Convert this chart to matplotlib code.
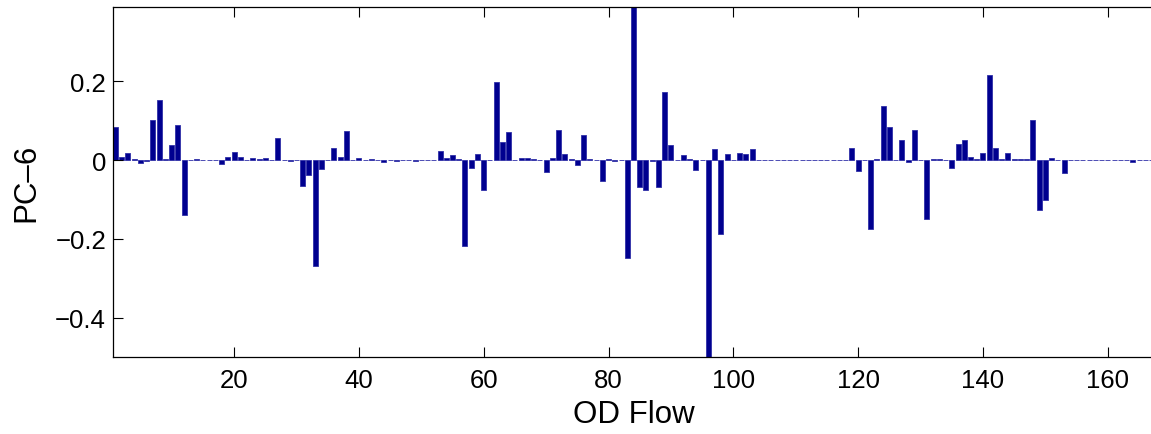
import numpy as np
import matplotlib.pyplot as plt

plt.rcParams['font.family'] = ['Liberation Sans', 'DejaVu Sans']

# PC-6 loading for each OD flow (index 1..167)
pc6 = [
    0.083, 0.007, 0.019, 0.002, -0.008, -0.002, 0.101, 0.152, 0.002, 0.039,
    0.090, -0.140, 0.001, 0.003, 0.001, 0.001, 0.001, -0.009, 0.008, 0.021,
    0.007, 0.001, 0.006, 0.002, 0.004, 0.001, 0.057, -0.001, -0.003, 0.001,
    -0.067, -0.037, -0.268, -0.024, 0.001, 0.030, 0.007, 0.073, 0.001, 0.004,
    0.001, 0.002, -0.001, -0.004, 0.001, -0.002, 0.001, -0.001, -0.002, 0.001,
    0.001, 0.001, 0.023, 0.005, 0.014, 0.002, -0.219, -0.020, 0.015, -0.077,
    0.001, 0.199, 0.046, 0.072, 0.001, 0.006, 0.006, 0.002, 0.001, -0.030,
    0.006, 0.075, 0.015, 0.002, -0.013, 0.064, 0.002, 0.001, -0.053, 0.002,
    -0.003, 0.001, -0.249, 0.390, -0.068, -0.077, -0.002, -0.068, 0.172, 0.037,
    0.001, 0.014, 0.003, -0.025, 0.001, -0.510, 0.029, -0.188, 0.015, 0.001,
    0.019, 0.015, 0.027, 0.001, 0.001, 0.001, 0.001, 0.001, 0.001, 0.001,
    0.001, 0.001, 0.001, 0.001, 0.001, 0.001, 0.001, 0.001, 0.031, -0.028,
    0.001, -0.175, 0.003, 0.136, 0.085, 0.001, 0.052, -0.006, 0.077, 0.001,
    -0.149, 0.002, 0.003, 0.001, -0.019, 0.041, 0.052, 0.008, 0.002, 0.017,
    0.215, 0.031, 0.002, 0.018, 0.002, 0.002, 0.002, 0.101, -0.128, -0.101,
    0.005, 0.001, -0.033, 0.001, 0.001, 0.001, 0.001, 0.001, 0.001, 0.001,
    0.001, 0.001, 0.001, -0.004, 0.001, 0.001, 0.001,
]
flows = np.arange(1, len(pc6) + 1)

xticks = [20, 40, 60, 80, 100, 120, 140, 160]
yticks = [-0.4, -0.2, 0, 0.2]
ytick_labels = ['\u22120.4', '\u22120.2', '0', '0.2']

fig = plt.figure(figsize=(11.51, 4.35), dpi=100)
ax = fig.add_axes([113 / 1151, 77 / 435, 1041 / 1151, 350 / 435])

ax.bar(flows, pc6, width=0.8, color='#00008F', edgecolor='#3030a8', linewidth=0.6)

ax.set_xlim(0.6, 167.4)
ax.set_ylim(-0.5, 0.3885)
ax.set_xticks(xticks)
ax.set_yticks(yticks)
ax.set_yticklabels(ytick_labels)
ax.tick_params(direction='in', length=7, width=0.8, top=True, right=False,
               labelsize=18.5, pad=8)
ax.tick_params(axis='y', pad=5)
for s in ax.spines.values():
    s.set_linewidth(0.9)

ax.set_xlabel('OD Flow', fontsize=22.5, labelpad=5)
ax.set_ylabel('PC\u20136', fontsize=22.5, labelpad=10)

fig.savefig('out.png', dpi=100)
